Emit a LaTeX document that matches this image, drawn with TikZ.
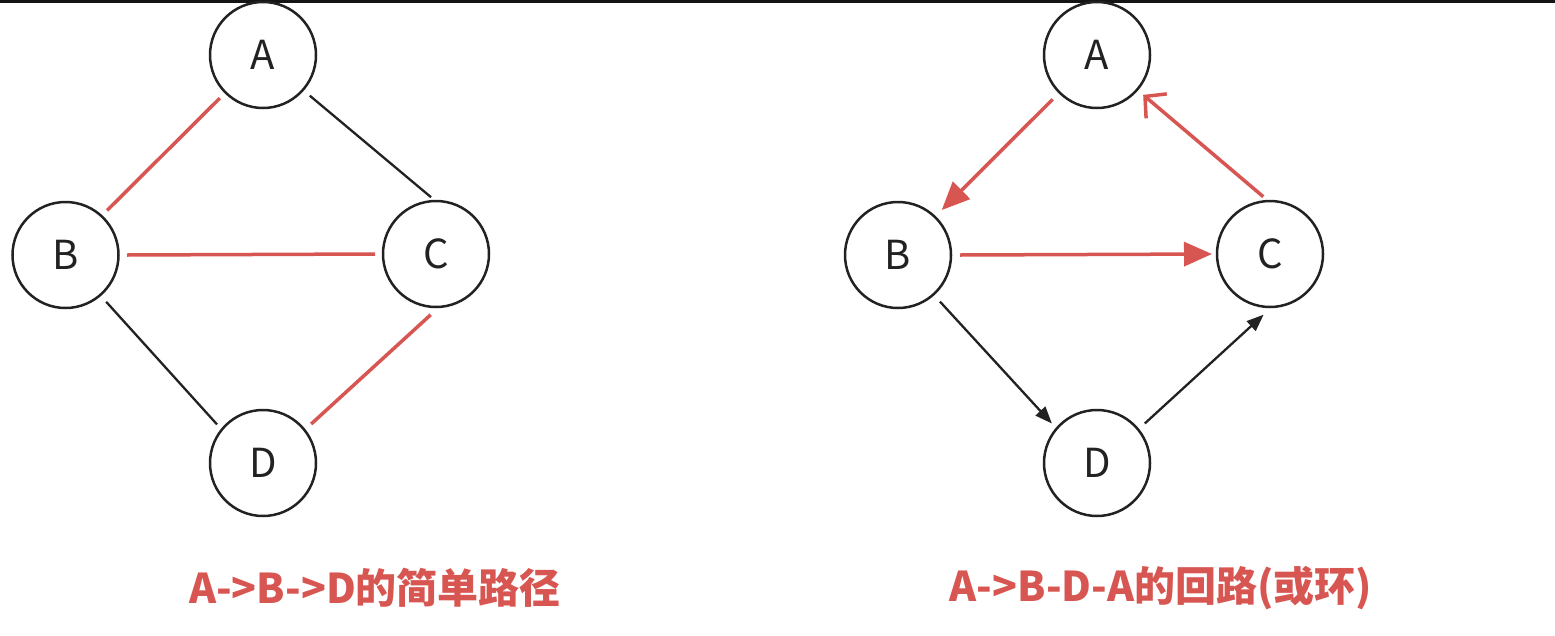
\documentclass[tikz,border=0pt]{standalone}
\usepackage{fontspec}
\setmainfont{Noto Sans CJK SC}
\newfontfamily\cjk{Noto Sans CJK SC}
\usetikzlibrary{arrows.meta,calc}
\definecolor{pathred}{RGB}{216,86,82}
\definecolor{ink}{RGB}{34,34,34}
\tikzset{
  vert/.style={circle,draw=ink,line width=2.5pt,minimum size=106pt,inner sep=0pt,
    font=\fontsize{40}{40}\selectfont,text=ink},
  redline/.style={draw=pathred,line width=3.5pt},
  blackline/.style={draw=ink,line width=2.3pt},
  bigtip/.style={-{Triangle[length=28pt,width=24pt]}},
  opentip/.style={-{Straight Barb[length=15pt,width=32pt,line width=3.5pt]}},
  smalltip/.style={-{Triangle[length=17pt,width=13pt]}},
  caption/.style={text=pathred,font=\cjk\bfseries\fontsize{41}{41}\selectfont}
}
\begin{document}
\begin{tikzpicture}[x=1pt,y=-1pt]
\useasboundingbox (0,0) rectangle (1555,635);
\fill[white] (0,0) rectangle (1555,635);
\fill[black!92] (0,0) rectangle (1555,3);
% left graph
\node[vert] (A) at (263,55) {A};
\node[vert] (B) at (65.5,255) {B};
\node[vert] (C) at (436,254) {C};
\node[vert] (D) at (263,463) {D};
\draw[redline] ($(A)+(225:61pt)$) -- ($(B)+(47:61pt)$);
\draw[blackline] ($(A)+(-41:62pt)$) -- ($(C)+(95:57pt)$);
\draw[redline] ($(B)+(0:61.5pt)$) -- ($(C)+(180:61pt)$);
\draw[blackline] ($(B)+(-49:62pt)$) -- ($(D)+(140:60pt)$);
\draw[redline] ($(C)+(-95:61pt)$) -- ($(D)+(39:62pt)$);
\node[caption] (cap1) at (375,588) {A->B->D的简单路径};
% right graph
\node[vert] (A2) at (1097,55) {A};
\node[vert] (B2) at (898,255) {B};
\node[vert] (C2) at (1270,254) {C};
\node[vert] (D2) at (1097,463) {D};
\draw[redline,bigtip] ($(A2)+(225:62.6pt)$) -- ($(B2)+(45.8:62.7pt)$);
\draw[redline,bigtip] ($(B2)+(0:62pt)$) -- ($(C2)+(180:58pt)$);
\draw[redline,opentip] ($(C2)+(96.7:57.7pt)$) -- ($(A2)+(-40.8:61pt)$);
\draw[blackline,smalltip] ($(B2)+(-48:62.8pt)$) -- ($(D2)+(138.8:60pt)$);
\draw[blackline,smalltip] ($(D2)+(39.6:62pt)$) -- ($(C2)+(-96:61pt)$);
\node[caption] (cap2) at (1161,588) {A->B-D-A的回路(或环)};
\end{tikzpicture}
\end{document}
